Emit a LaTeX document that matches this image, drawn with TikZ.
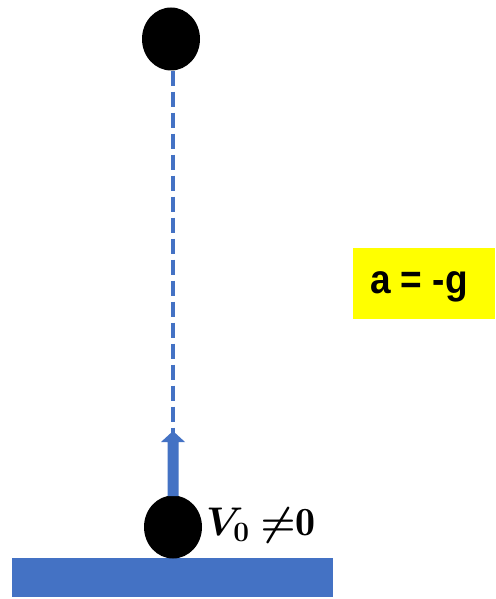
\RequirePackage{fix-cm}
\documentclass[tikz,border=0pt]{standalone}
\usepackage{fontspec}
\usepackage{amsmath}
\usepackage{bm}
\usetikzlibrary{shapes.geometric}
\newfontfamily\arialb{Liberation Sans}
\definecolor{ublue}{HTML}{4472C4}
\definecolor{uyellow}{HTML}{FFFF00}
\begin{document}
\begin{tikzpicture}[x=1pt,y=-1pt,
  ball/.style={ellipse,fill=black,minimum width=58pt,minimum height=63pt,inner sep=0pt},
  dashline/.style={ublue,line width=4pt,dash pattern=on 15pt off 6pt}]
\useasboundingbox (0,0) rectangle (495,599);
\fill[ublue] (12,558) rectangle (333,597);
\node[ball] (top) at (171,39) {};
\node[ball] (bot) at (173,527) {};
\coordinate (tip) at (173,431);
\fill[ublue] (167.5,496) -- (167.5,442) -- (161,442) -- (tip) -- (185,442) -- (178.5,442) -- (178.5,496) -- cycle;
\draw[dashline] (top.south -| tip) -- ([yshift=-9pt]tip);
\node[fill=uyellow,minimum width=142pt,minimum height=71pt,anchor=north west,inner sep=0pt] (acc) at (353,248) {};
\node[font={\arialb\bfseries\fontsize{37}{44}\selectfont},yscale=1.1] (acctext) at (419,287) {a = -g};
\node[anchor=west,inner sep=0pt,font=\fontsize{40}{46}\selectfont] (v) at (206,525) {$\bm{V_0}\;\bm{{\neq}}\mathbf{0}$};
\end{tikzpicture}
\end{document}
